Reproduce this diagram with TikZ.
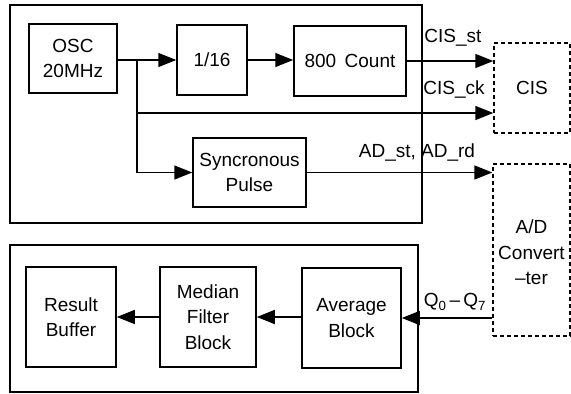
\documentclass[tikz,border=0pt]{standalone}
\usepackage{fontspec}
\setmainfont{Liberation Sans}
\usetikzlibrary{arrows.meta}
\begin{document}
\begin{tikzpicture}[x=1pt,y=-1pt,
  every node/.style={font=\fontsize{19}{25.5}\selectfont},
  blk/.style={draw,line width=1.5pt,align=center,inner sep=0pt},
  dbox/.style={draw,line width=1.4pt,dash pattern=on 4pt off 3pt,align=center,inner sep=0pt},
  frame/.style={draw,line width=1.5pt},
  arr/.style={line width=1.5pt,-{Triangle[length=18pt,width=14pt]}},
  ln/.style={line width=1.5pt},
  lbl/.style={inner sep=0pt}]
\useasboundingbox (0,0) rectangle (571,394);
% outer frames
\draw[frame] (10,5) rectangle (422,223);
\draw[frame] (10,245) rectangle (418,392);
% blocks
\node[blk,minimum width=88pt,minimum height=69pt] (osc) at (73,58.5) {OSC\\20MHz};
\node[blk,minimum width=70pt,minimum height=70pt] (div) at (212,60) {1/16};
\node[blk,minimum width=112pt,minimum height=70pt] (cnt) at (350,61) {800\ \,Count};
\node[blk,minimum width=113pt,minimum height=69pt] (syn) at (249.5,172.5) {Syncronous\\Pulse};
\node[dbox,minimum width=76pt,minimum height=90pt] (cis) at (532,88) {CIS};
\node[dbox,minimum width=77pt,minimum height=172pt] (ad) at (531.5,250) {};
\node[lbl,align=center] (adt) at (531.5,252.5) {A/D\\Convert\\\textendash ter};
\node[blk,minimum width=90pt,minimum height=100pt] (res) at (71,317) {Result\\Buffer};
\node[blk,minimum width=96pt,minimum height=100pt] (med) at (208,317) {Median\\Filter\\Block};
\node[blk,minimum width=99pt,minimum height=100pt] (avg) at (351.5,318) {Average\\Block};
% branch coordinates
\coordinate (br) at (137,60);
\coordinate (brck) at (137,113);
\coordinate (q) at (493,318);
% connectors
\draw[arr] (osc.east|-br) -- (div.west|-br);
\draw[arr] (div.east|-br) -- (cnt.west|-br);
\draw[arr] (cnt.east) -- (cnt.east-|cis.west);
\draw[ln] (br) -- (brck);
\draw[arr] (brck) -- (brck-|cis.west);
\draw[arr] (brck) |- (syn.west);
\draw[arr] (syn.east) -- (syn.east-|ad.west);
\draw[arr] (ad.west|-q) -- (avg.east|-q);
\draw[arr] (avg.west|-med.east) -- (med.east);
\draw[arr] (med.west) -- (res.east);
% labels
\node[lbl] (lst) at (453,38) {CIS\_st};
\node[lbl] (lck) at (454,90) {CIS\_ck};
\node[lbl] (lad) at (417,153) {AD\_st,\ AD\_rd};
\node[lbl] (lq) at (455,302) {Q\textsubscript{0}\,\textendash\,Q\textsubscript{7}};
\end{tikzpicture}
\end{document}
